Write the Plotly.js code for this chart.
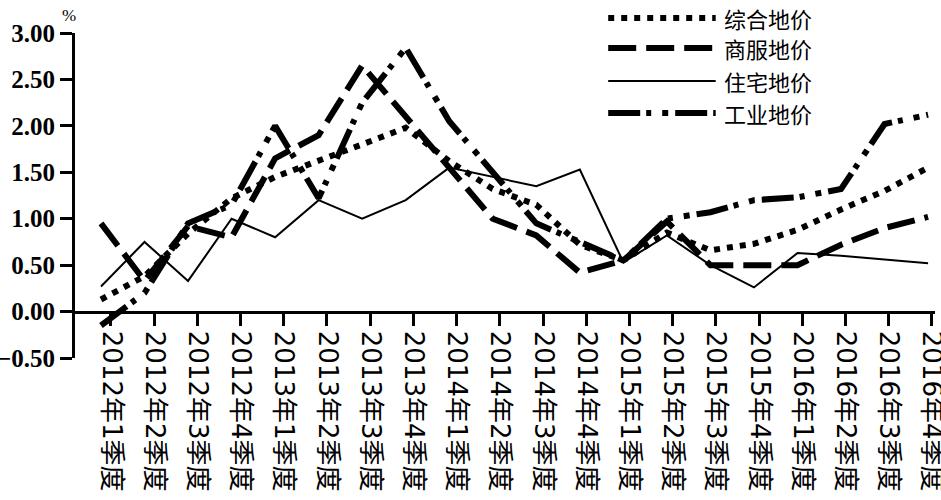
<!DOCTYPE html>
<html><head><meta charset="utf-8">
<script src="https://cdn.plot.ly/plotly-3.0.1.min.js"></script>
<style>html,body{margin:0;padding:0;background:#fff}#chart{width:941px;height:500px}</style>
</head><body><div id="chart"></div>
<script>
const categories = ['2012年1季度','2012年2季度','2012年3季度','2012年4季度',
  '2013年1季度','2013年2季度','2013年3季度','2013年4季度',
  '2014年1季度','2014年2季度','2014年3季度','2014年4季度',
  '2015年1季度','2015年2季度','2015年3季度','2015年4季度',
  '2016年1季度','2016年2季度','2016年3季度','2016年4季度'];
const seriesNames = ['综合地价','商服地价','住宅地价','工业地价'];
const zonghe  = [0.13,0.38,0.84,1.22,1.45,1.62,1.80,1.98,1.62,1.32,1.15,0.72,0.55,0.85,0.66,0.73,0.88,1.10,1.30,1.55];
const shangfu = [0.95,0.33,0.92,0.80,1.65,1.90,2.65,2.10,1.55,1.00,0.82,0.42,0.55,0.97,0.50,0.50,0.50,0.72,0.90,1.02];
const zhuzhai = [0.27,0.75,0.33,1.00,0.80,1.20,1.00,1.20,1.55,1.45,1.35,1.53,0.53,0.82,0.50,0.26,0.63,0.60,0.56,0.52];
const gongye  = [-0.15,0.20,0.95,1.15,2.00,1.22,2.25,2.84,2.05,1.50,0.95,0.75,0.55,1.00,1.07,1.20,1.23,1.32,2.02,2.12];
const yTickVals = [-0.5,0,0.5,1,1.5,2,2.5,3];
const yUnit = '%';

const seriesValues = [zonghe, shangfu, zhuzhai, gongye];
const styles = [
  {width:6, dash:'6px,7px'},
  {width:6, dash:'28px,10px'},
  {width:2, dash:'solid'},
  {width:6, dash:'32px,6px,5px,11px,6px,7px'}
];
const traces = seriesNames.map((n,k)=>({
  type:'scatter', mode:'lines', name:n, x:categories, y:seriesValues[k],
  xaxis:'x', yaxis:'y',
  line:{color:'#000', width:styles[k].width, dash:styles[k].dash},
  showlegend:false, hoverinfo:'skip'
}));
// empty trace that only registers the tick (category label) axis
traces.push({type:'scatter', mode:'none', x:[], y:[], xaxis:'x2', yaxis:'y', showlegend:false, hoverinfo:'skip'});

// custom legend (long line samples like the original)
const legendRowY = [1.046, 0.954, 0.852, 0.754];
const shapes = [], annotations = [];
seriesNames.forEach((n,k)=>{
  shapes.push({type:'line', xref:'paper', yref:'paper', x0:0.620, x1:0.745,
    y0:legendRowY[k], y1:legendRowY[k],
    line:{color:'#000', width:styles[k].width, dash:styles[k].dash}});
  annotations.push({xref:'paper', yref:'paper', x:0.754, y:legendRowY[k],
    xanchor:'left', yanchor:'middle', showarrow:false, text:n, borderpad:0,
    font:{family:'Noto Sans CJK SC', size:22, color:'#000'}});
});
annotations.push({xref:'paper', yref:'paper', x:-0.007, y:1.055, xanchor:'center', yanchor:'middle',
  showarrow:false, text:yUnit, font:{family:'Liberation Serif', size:17, color:'#000'}});

const layout = {
  width:941, height:500,
  margin:{l:75, r:6, t:33, b:142, pad:0},
  paper_bgcolor:'#fff', plot_bgcolor:'#fff',
  showlegend:false,
  xaxis:{type:'category', range:[-0.597, 19.159], visible:false, fixedrange:true},
  xaxis2:{type:'linear', overlaying:'x', anchor:'free', position:1/7,
    range:[-0.833, 19.074], tickmode:'array',
    tickvals:categories.map((c,i)=>i), ticktext:categories, ticklabeloverflow:'allow',
    showline:true, linecolor:'#000', linewidth:3, showgrid:false, zeroline:false,
    ticks:'outside', ticklen:12, tickwidth:3, tickcolor:'#000', tickangle:90,
    tickfont:{family:'DejaVu Sans, Noto Sans CJK SC', size:26, color:'#000'}},
  yaxis:{range:[-0.5,3.0], tickmode:'array', tickvals:yTickVals, tickformat:'.2f',
    showline:true, linecolor:'#000', linewidth:3, showgrid:false, zeroline:false,
    ticks:'outside', ticklen:12, tickwidth:3, tickcolor:'#000',
    tickfont:{family:'Liberation Serif', size:25, color:'#000', weight:'bold'}},
  shapes:shapes, annotations:annotations
};
Plotly.newPlot('chart', traces, layout, {displayModeBar:false, staticPlot:true});
</script></body></html>
